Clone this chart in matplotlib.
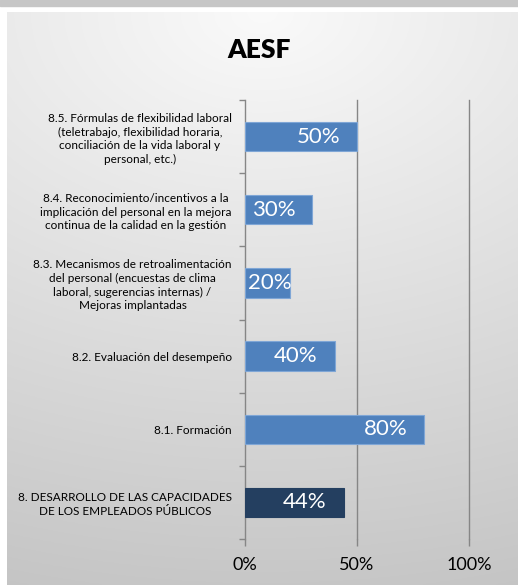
import matplotlib.pyplot as plt
import numpy as np

# data
kategorier = [
    "8. DESARROLLO DE LAS CAPACIDADES\nDE LOS EMPLEADOS PÚBLICOS",
    "8.1. Formación",
    "8.2. Evaluación del desempeño",
    "8.3. Mecanismos de retroalimentación\ndel personal (encuestas de clima\nlaboral, sugerencias internas) /\nMejoras implantadas",
    "8.4. Reconocimiento/incentivos a la\nimplicación del personal en la mejora\ncontinua de la calidad en la gestión",
    "8.5. Fórmulas de flexibilidad laboral\n(teletrabajo, flexibilidad horaria,\nconciliación de la vida laboral y\npersonal, etc.)",
]
verdier = [0.44, 0.80, 0.40, 0.20, 0.30, 0.50]
xtick_verdier = [0, 0.5, 1.0]
xtick_tekst = ["0%", "50%", "100%"]
tittel = "AESF"

plt.rcParams['font.family'] = ['Lato', 'DejaVu Sans']

W, H = 518, 585
fig = plt.figure(figsize=(W / 100, H / 100), dpi=100)
fig.patch.set_facecolor('white')

# grå stripe øverst
fig.patches.append(plt.Rectangle((0, 1 - 6 / H), 1, 6 / H, transform=fig.transFigure,
                                 color='#c6c6c6', zorder=0))

# bakgrunn med gradient
bg = fig.add_axes([7 / W, 0, (W - 7) / W, (H - 12) / H], zorder=0)
yy, xx = np.mgrid[0:1:300j, 0:1:300j]
d = np.sqrt(((xx - 0.5) * 0.6) ** 2 + yy ** 2)
g = np.clip(0.98 - 0.2 * d, 0.74, 1)
bg.imshow(np.dstack([g, g, g]), extent=[0, 1, 0, 1], origin='upper', aspect='auto')
bg.set_axis_off()

ax = fig.add_axes([245 / W, 46 / H, 224 / W, 439 / H], zorder=1)
ax.patch.set_alpha(0)

y = np.arange(len(kategorier))
farger = ['#243f60'] + ['#4f81bd'] * (len(kategorier) - 1)
ax.barh(y, verdier, height=0.4, color=farger, edgecolor=['#243f60'] + ['#7fa6d6'] * 5,
        linewidth=0.8, zorder=3)

ax.set_xlim(0, 1)
ax.set_ylim(-0.5, len(kategorier) - 0.5)

# verdier inne i søylene
px = 224  # aksebredde i piksler
for i, v in enumerate(verdier):
    slutt = max(v * px - 17, 47)
    ax.text(slutt / px, i, f"{v * 100:.0f}%", color='white', fontsize=16,
            ha='right', va='center', zorder=4)

ax.set_xticks(xtick_verdier)
ax.set_xticklabels(xtick_tekst, fontsize=13)
ax.set_yticks(y)
ax.set_yticklabels(kategorier, fontsize=8.5, linespacing=1.3)
for lab in ax.get_yticklabels():
    lab.set_multialignment('center')
ax.set_yticks(np.arange(-0.5, len(kategorier), 1), minor=True)
ax.tick_params(axis='y', which='major', length=0, pad=9.5)
ax.tick_params(axis='y', which='minor', length=4, color='#868686', width=1)
ax.tick_params(axis='x', length=5, color='#868686', width=1, pad=8)

for xv in xtick_verdier[1:]:
    ax.axvline(xv, color='#868686', linewidth=1, zorder=1, clip_on=False)
for s in ['top', 'right', 'bottom']:
    ax.spines[s].set_visible(False)
ax.spines['left'].set_color('#868686')
ax.spines['left'].set_linewidth(1)

fig.text(0.5, 1 - 50 / H, tittel, fontsize=19, fontweight='heavy', ha='center', va='center')

fig.savefig('out.png', dpi=100)
